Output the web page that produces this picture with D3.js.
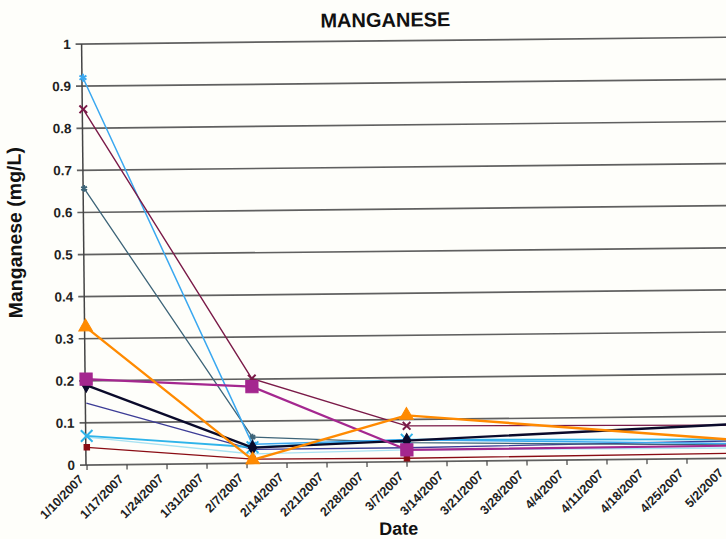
<!DOCTYPE html>
<html><head><meta charset="utf-8">
<script src="https://cdn.jsdelivr.net/npm/d3@7"></script>
<style>body{margin:0;background:#fefefa;} svg{display:block}</style>
</head><body>
<svg id="c" width="726" height="539"></svg>
<script>
// ---- data ----
const sampleDates = ["2007-01-10", "2007-02-08", "2007-03-07", "2007-05-09"];
const tickDates = ["2007-01-10","2007-01-17","2007-01-24","2007-01-31","2007-02-07","2007-02-14","2007-02-21","2007-02-28","2007-03-07","2007-03-14","2007-03-21","2007-03-28","2007-04-04","2007-04-11","2007-04-18","2007-04-25","2007-05-02"];
const yTicks = [0, 0.1, 0.2, 0.3, 0.4, 0.5, 0.6, 0.7, 0.8, 0.9, 1];

const lightBlueStar = [0.92, 0.045, 0.052, 0.033];
const maroon        = [0.845, 0.201, 0.085, 0.078];
const slate         = [0.657, 0.062, 0.045, 0.030];
const orange        = [0.328, 0.008, 0.110, 0.037];
const magenta       = [0.204, 0.182, 0.028, 0.030];
const black         = [0.190, 0.037, 0.050, 0.084];
const navy          = [0.147, 0.033, 0.033, 0.042];
const cyanX         = [0.069, 0.038, 0.052, 0.044];
const paleCyan      = [0.066, 0.022, 0.028, 0.024];
const darkRed       = [0.042, 0.010, 0.008, 0.012];

const seriesList = [
  {name:"paleCyan", values: paleCyan, color:"#a8e2f2", width:1.3, symbol:null},
  {name:"darkRed", values: darkRed, color:"#8a0c14", width:1.3, symbol:"square", size:30},
  {name:"navy", values: navy, color:"#3c3c96", width:1.4, symbol:null},
  {name:"slate", values: slate, color:"#3d6478", width:1.3, symbol:"asterisk", size:30},
  {name:"cyanX", values: cyanX, color:"#2fb4ea", width:1.8, symbol:"times", size:90},
  {name:"lightBlueStar", values: lightBlueStar, color:"#3aa8f0", width:1.5, symbol:"asterisk", size:45},
  {name:"maroon", values: maroon, color:"#7a1a48", width:1.4, symbol:"times", size:40},
  {name:"black", values: black, color:"#0a0a2a", width:2.4, symbol:"diamond", size:60},
  {name:"magenta", values: magenta, color:"#a4278f", width:2.2, symbol:"square", size:150},
  {name:"orange", values: orange, color:"#ff8a00", width:2.4, symbol:"triangle", size:80}
];

// ---- layout ----
const svg = d3.select("#c");
const parse = d3.timeParse("%Y-%m-%d");
const fmt = d => (d.getMonth()+1) + "/" + d.getDate() + "/" + d.getFullYear();
const x = d3.scaleTime().domain([parse("2007-01-10"), parse("2007-05-02")]).range([87, 727]);
const y = d3.scaleLinear().domain([0, 1]).range([465, 44]);
const FONT = "Liberation Sans, Arial, sans-serif";

const root = svg.append("g").attr("transform", "rotate(-0.6, 86, 465)");

// gridlines
root.append("g").selectAll("line").data(yTicks).join("line")
  .attr("x1", 80).attr("x2", 820)
  .attr("y1", d => y(d)).attr("y2", d => y(d))
  .attr("stroke", "#505050").attr("stroke-width", 1.7).attr("opacity", 0.9);

// y axis
root.append("line").attr("x1", 86).attr("x2", 86).attr("y1", y(1)).attr("y2", y(0))
  .attr("stroke", "#444").attr("stroke-width", 1.5);
root.append("g").selectAll("text").data(yTicks).join("text")
  .attr("x", 75).attr("y", d => y(d)).attr("dy", "0.35em")
  .attr("text-anchor", "end")
  .attr("font-family", FONT).attr("font-weight", "bold")
  .attr("font-size", 13.5).attr("fill", "#222")
  .text(d => d3.format("")(+d.toFixed(1)));

// x axis ticks & labels
const tds = tickDates.map(parse);
root.append("g").selectAll("line").data(tds).join("line")
  .attr("x1", d => x(d)).attr("x2", d => x(d)).attr("y1", 465).attr("y2", 470)
  .attr("stroke", "#444").attr("stroke-width", 1.2);
root.append("g").selectAll("text").data(tds).join("text")
  .attr("transform", d => `translate(${x(d) - 6},${477}) rotate(-45)`)
  .attr("text-anchor", "end").attr("dy", "0.35em")
  .attr("font-family", FONT).attr("font-weight", "bold")
  .attr("font-size", 12.5).attr("fill", "#222")
  .text(d => fmt(d));

// titles
root.append("text").attr("x", 390).attr("y", 30).attr("text-anchor", "middle")
  .attr("font-family", FONT).attr("font-weight", "bold")
  .attr("font-size", 20).attr("fill", "#111").text("MANGANESE");
root.append("text").attr("x", 398).attr("y", 538).attr("text-anchor", "middle")
  .attr("font-family", FONT).attr("font-weight", "bold")
  .attr("font-size", 18).attr("fill", "#111").text("Date");
root.append("text").attr("transform", "translate(24,232) rotate(-90)").attr("text-anchor", "middle")
  .attr("font-family", FONT).attr("font-weight", "bold")
  .attr("font-size", 19.5).attr("fill", "#111").text("Manganese (mg/L)");

// series
const sd = sampleDates.map(parse);
const line = d3.line().x(d => x(d.date)).y(d => y(d.v));
const symMap = {square: d3.symbolSquare, triangle: d3.symbolTriangle, diamond: d3.symbolDiamond,
  times: d3.symbolTimes, asterisk: d3.symbolAsterisk};
const strokeSyms = new Set(["times", "asterisk"]);

seriesList.forEach(s => {
  const pts = s.values.map((v, i) => ({date: sd[i], v}));
  root.append("path").datum(pts).attr("d", line)
    .attr("fill", "none").attr("stroke", s.color).attr("stroke-width", s.width)
    .attr("stroke-linejoin", "round");
  if (s.symbol) {
    const gen = d3.symbol().type(symMap[s.symbol]).size(s.size);
    root.append("g").selectAll("path").data(pts).join("path")
      .attr("transform", d => `translate(${x(d.date)},${y(d.v)})`)
      .attr("d", gen)
      .attr("fill", strokeSyms.has(s.symbol) ? "none" : s.color)
      .attr("stroke", s.color).attr("stroke-width", strokeSyms.has(s.symbol) ? 2 : 1);
  }
});
</script>
</body></html>
